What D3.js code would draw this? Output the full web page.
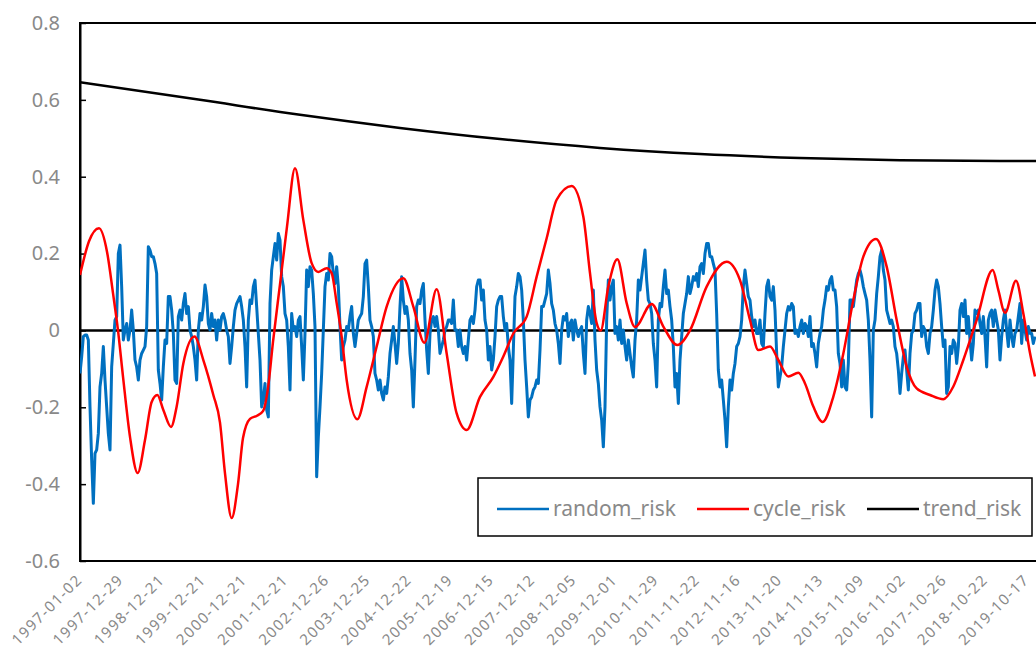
<!DOCTYPE html>
<html>
<head>
<meta charset="utf-8">
<script src="https://cdn.jsdelivr.net/npm/d3@7"></script>
<style>
  html, body { margin: 0; padding: 0; background: #fff; overflow: hidden; }
  svg { display: block; }
  text { font-family: "Noto Sans", "Liberation Sans", sans-serif; }
</style>
</head>
<body>
<div id="chart"></div>
<script>
// random_risk, one value every 10 trading days starting 1997-01-02
const sampleStep = 10;
const randomRisk = [
  -0.112,-0.069,-0.016,-0.012,-0.012,-0.025,-0.199,-0.337,-0.450,-0.320,
  -0.311,-0.268,-0.147,-0.112,-0.042,-0.129,-0.199,-0.268,-0.311,-0.095,
  -0.034,0.027,0.036,0.200,0.222,0.114,-0.025,0.001,0.018,-0.025,
  0.001,0.053,0.001,-0.077,-0.095,-0.129,-0.077,-0.060,-0.051,-0.042,
  0.010,0.218,0.209,0.192,0.192,0.174,0.148,-0.103,-0.138,-0.181,
  -0.095,-0.025,-0.034,0.088,0.088,0.053,-0.008,-0.129,-0.138,0.036,
  0.053,0.027,0.070,0.096,0.044,0.062,0.001,-0.016,-0.042,-0.077,
  -0.129,0.001,0.044,0.027,0.062,0.118,0.088,0.018,0.001,0.044,
  0.010,0.027,-0.025,0.027,0.001,0.036,0.044,0.027,0.001,-0.016,
  -0.086,-0.042,0.010,0.053,0.070,0.079,0.088,0.062,0.027,-0.042,
  -0.147,0.027,0.079,0.070,0.114,0.131,0.062,-0.008,-0.077,-0.199,
  -0.181,-0.138,-0.207,-0.225,
  0.070,0.157,0.192,0.226,0.183,0.252,0.235,0.140,0.114,0.044,
  0.027,-0.042,-0.155,0.044,0.001,0.010,-0.016,0.027,0.036,-0.042,
  -0.129,-0.008,0.157,0.114,0.166,0.157,0.096,0.010,-0.381,-0.277,
  -0.199,-0.112,0.001,0.114,0.148,0.131,0.200,0.192,0.148,0.122,
  0.166,0.114,0.010,-0.077,-0.042,-0.025,0.010,0.001,0.036,0.062,
  -0.008,-0.042,-0.008,0.027,0.036,0.044,0.088,0.174,0.183,0.114,
  0.027,0.010,-0.016,-0.112,-0.129,-0.155,-0.129,-0.164,-0.181,-0.147,
  -0.164,-0.121,-0.060,-0.025,0.010,-0.034,-0.086,-0.034,0.062,0.140,
  0.079,0.044,0.062,0.027,-0.060,-0.103,-0.199,-0.077,0.062,0.079,
  0.070,0.105,0.122,0.027,-0.051,-0.112,-0.008,0.027,0.036,0.010,
  0.036,0.001,-0.060,-0.042,-0.025,0.001,0.010,0.027,0.027,0.018,
  0.079,0.001,0.001,-0.042,
  0.001,-0.042,-0.060,-0.042,-0.077,-0.025,0.027,0.036,0.018,0.053,
  0.114,0.131,0.131,0.079,0.105,0.027,0.001,-0.077,-0.042,-0.103,
  -0.077,-0.016,0.062,0.079,0.088,0.088,0.036,0.001,0.018,-0.042,
  -0.077,-0.190,-0.051,0.088,0.114,0.148,0.140,0.105,0.027,-0.077,
  -0.147,-0.225,-0.181,-0.173,-0.155,-0.147,-0.129,-0.138,-0.051,0.062,
  0.062,0.079,0.096,0.157,0.122,0.070,0.053,0.018,0.001,-0.034,
  -0.086,0.001,0.036,0.027,0.044,-0.016,0.018,0.027,-0.025,0.027,
  0.001,-0.016,0.001,0.010,-0.060,-0.112,0.027,0.062,0.044,0.018,
  0.105,-0.025,-0.103,-0.138,-0.199,-0.233,-0.303,-0.199,0.027,0.131,
  0.079,0.114,0.131,-0.008,0.010,-0.025,0.027,-0.034,0.001,-0.042,
  -0.077,-0.025,-0.060,-0.095,-0.121,-0.025,0.027,0.131,0.105,0.140,
  0.174,0.209,0.131,0.079,
  0.070,0.044,-0.034,-0.077,-0.147,0.027,0.070,0.062,0.114,0.157,
  0.096,0.105,0.062,0.027,-0.042,-0.147,-0.112,-0.190,-0.077,-0.016,
  0.044,0.070,0.096,0.140,0.096,0.114,0.140,0.131,0.148,0.114,
  0.166,0.174,0.148,0.200,0.226,0.226,0.192,0.192,0.174,0.157,
  0.044,-0.103,-0.147,-0.129,-0.181,-0.233,-0.303,-0.199,-0.129,-0.155,
  -0.112,-0.086,-0.042,-0.034,-0.016,0.027,0.114,0.157,0.122,0.088,
  0.079,0.036,0.010,0.027,-0.008,-0.008,0.027,-0.034,-0.042,0.044,
  0.114,0.131,0.088,0.079,0.114,0.053,-0.060,-0.147,-0.121,-0.095,
  -0.042,0.001,0.044,0.062,0.053,0.070,0.062,-0.008,0.001,-0.016,
  0.010,0.027,-0.008,0.018,0.010,-0.016,0.036,-0.042,-0.034,-0.060,
  -0.095,-0.034,-0.008,0.010,0.053,0.079,0.114,0.105,0.131,0.140,
  0.105,0.105,0.062,-0.060,
  -0.086,-0.147,-0.077,-0.147,-0.155,-0.086,0.079,0.079,0.062,0.096,
  0.131,0.148,0.157,0.140,0.114,0.096,0.079,0.027,-0.077,-0.225,
  0.001,0.027,0.096,0.140,0.192,0.209,0.157,0.131,0.053,0.036,
  0.018,0.027,0.010,-0.042,-0.060,-0.103,-0.164,-0.112,-0.069,-0.051,
  -0.103,-0.155,-0.060,-0.008,0.001,0.044,0.053,0.070,0.070,-0.016,
  0.010,0.001,-0.042,-0.060,-0.008,0.010,0.053,0.105,0.131,0.114,
  0.070,0.010,-0.042,-0.025,-0.164,-0.147,-0.042,-0.060,-0.025,-0.034,
  -0.086,-0.042,0.053,0.070,0.036,0.079,-0.008,0.036,-0.025,-0.077,
  -0.034,0.053,0.044,0.053,0.018,-0.008,0.036,-0.016,-0.095,0.027,
  0.044,0.053,0.010,0.053,0.027,0.001,-0.077,-0.016,0.027,0.053,
  0.001,-0.042,0.027,-0.016,-0.042,-0.008,0.001,0.036,0.070,-0.034,
  0.027,0.001,-0.025,0.010,-0.008,-0.008,-0.034,-0.016
];

// cycle_risk: [trading day, value]
const cycleRisk = [
  [0,0.144],[54,0.232],[114,0.266],[162,0.205],[198,0.097],[228,0.0],[258,-0.12],
  [300,-0.277],[346,-0.371],[390,-0.285],[430,-0.186],[464,-0.168],[500,-0.207],
  [546,-0.251],[580,-0.198],[620,-0.086],[687,-0.016],[740,-0.077],[800,-0.168],
  [840,-0.24],[870,-0.372],[910,-0.488],[948,-0.40],[978,-0.28],[1020,-0.23],
  [1062,-0.222],[1098,-0.21],[1128,-0.15],[1158,-0.03],[1200,0.12],[1242,0.27],
  [1290,0.422],[1340,0.287],[1390,0.175],[1430,0.152],[1480,0.162],[1510,0.149],
  [1540,0.071],[1570,-0.016],[1600,-0.129],[1664,-0.231],[1720,-0.147],[1780,-0.042],
  [1840,0.062],[1940,0.136],[2000,0.062],[2066,-0.032],[2140,0.107],[2200,-0.06],
  [2260,-0.216],[2320,-0.259],[2400,-0.173],[2480,-0.121],[2540,-0.068],[2600,-0.008],
  [2680,0.036],[2740,0.140],[2800,0.240],[2860,0.34],[2950,0.376],[3020,0.296],
  [3060,0.149],[3100,0.019],[3124,0.0],[3170,0.114],[3224,0.185],[3280,0.071],
  [3330,0.009],[3430,0.069],[3500,0.01],[3584,-0.038],[3660,0.0],[3760,0.114],
  [3880,0.179],[3960,0.131],[4020,0.027],[4070,-0.051],[4140,-0.042],[4190,-0.077],
  [4250,-0.120],[4310,-0.110],[4350,-0.138],[4400,-0.198],[4456,-0.238],[4520,-0.172],
  [4580,-0.06],[4640,0.079],[4700,0.192],[4776,0.238],[4840,0.166],[4900,0.027],
  [4960,-0.094],[5020,-0.151],[5100,-0.168],[5180,-0.179],[5240,-0.146],[5300,-0.077],
  [5380,0.027],[5476,0.157],[5510,0.105],[5550,0.046],[5616,0.129],[5660,0.044],
  [5700,-0.059],[5730,-0.12]
];

// trend_risk: [trading day, value]
const trendRisk = [
  [0,0.646],[720,0.600],[1320,0.561],[1920,0.527],[2520,0.498],[3120,0.475],
  [3720,0.459],[4320,0.449],[4920,0.443],[5520,0.441],[5736,0.441]
];

// category labels, one every 247 trading days
const labelStep = 247;
const dateLabels = [
  "1997-01-02","1997-12-29","1998-12-21","1999-12-21","2000-12-21","2001-12-21",
  "2002-12-26","2003-12-25","2004-12-22","2005-12-19","2006-12-15","2007-12-12",
  "2008-12-05","2009-12-01","2010-11-29","2011-11-22","2012-11-16","2013-11-20",
  "2014-11-13","2015-11-09","2016-11-02","2017-10-26","2018-10-22","2019-10-17"
];
const yTicks = [-0.6, -0.4, -0.2, 0, 0.2, 0.4, 0.6, 0.8];
const seriesNames = ["random_risk", "cycle_risk", "trend_risk"];
const seriesColors = ["#0070C0", "#FF0000", "#000000"];

const width = 1036, height = 652;
const plot = { left: 80, top: 23, right: 1050, bottom: 561 };
const totalDays = 5820;
const labelColor = "#898989";

const svg = d3.select("#chart").append("svg")
  .attr("width", width)
  .attr("height", height);

const x = d3.scaleLinear().domain([0, totalDays]).range([plot.left, plot.right]);
const y = d3.scaleLinear().domain([-0.6, 0.8]).range([plot.bottom, plot.top]);

svg.append("clipPath").attr("id", "clip")
  .append("rect")
  .attr("x", plot.left).attr("y", plot.top)
  .attr("width", plot.right - plot.left).attr("height", plot.bottom - plot.top);

// y axis, ticks pointing inside
const yAxis = svg.append("g")
  .attr("transform", `translate(${plot.left},0)`)
  .call(d3.axisLeft(y)
    .tickValues(yTicks)
    .tickSizeInner(-6)
    .tickSizeOuter(0)
    .tickPadding(20)
    .tickFormat(d => d === 0 ? "0" : d.toFixed(1)));
yAxis.select(".domain").attr("stroke-width", 2);
yAxis.selectAll(".tick line").attr("stroke-width", 1.5);
yAxis.selectAll("text")
  .style("font-size", "20px")
  .attr("fill", labelColor);

// x axis labels
const xAxis = svg.append("g")
  .attr("transform", `translate(0,${plot.bottom})`)
  .call(d3.axisBottom(x)
    .tickValues(dateLabels.map((_, i) => i * labelStep))
    .tickFormat((d, i) => dateLabels[i])
    .tickSize(0)
    .tickSizeOuter(0));
xAxis.select(".domain").remove();
xAxis.selectAll("text")
  .attr("x", 0)
  .attr("y", 0)
  .attr("dy", "0.35em")
  .attr("text-anchor", "end")
  .attr("transform", "translate(-1,16) rotate(-45)")
  .style("font-size", "15px")
  .style("letter-spacing", "1.4px")
  .attr("fill", labelColor);

// frame
svg.append("path")
  .attr("d", `M${plot.right},${plot.top}H${plot.left}V${plot.bottom}H${plot.right}`)
  .attr("fill", "none")
  .attr("stroke", "#000")
  .attr("stroke-width", 2);

// zero line
svg.append("line")
  .attr("x1", plot.left).attr("x2", plot.right)
  .attr("y1", y(0)).attr("y2", y(0))
  .attr("stroke", "#000")
  .attr("stroke-width", 2.5);

const lines = svg.append("g").attr("clip-path", "url(#clip)");

const randomLine = d3.line()
  .x((d, i) => x(i * sampleStep))
  .y(d => y(d));

const smoothLine = d3.line()
  .x(d => x(d[0]))
  .y(d => y(d[1]))
  .curve(d3.curveMonotoneX);

lines.append("path")
  .datum(randomRisk)
  .attr("d", randomLine)
  .attr("fill", "none")
  .attr("stroke", seriesColors[0])
  .attr("stroke-width", 3)
  .attr("stroke-linejoin", "round");

lines.append("path")
  .datum(cycleRisk)
  .attr("d", smoothLine)
  .attr("fill", "none")
  .attr("stroke", seriesColors[1])
  .attr("stroke-width", 2.5);

lines.append("path")
  .datum(trendRisk)
  .attr("d", smoothLine)
  .attr("fill", "none")
  .attr("stroke", seriesColors[2])
  .attr("stroke-width", 2.5);

// legend
const legend = svg.append("g").attr("transform", "translate(478,478)");
legend.append("rect")
  .attr("width", 554).attr("height", 58)
  .attr("fill", "#fff")
  .attr("stroke", "#000")
  .attr("stroke-width", 1.5);

const legendOffsets = [19, 219, 389];
const items = legend.selectAll(".item")
  .data(seriesNames)
  .enter()
  .append("g")
  .attr("class", "item")
  .attr("transform", (d, i) => `translate(${legendOffsets[i]},31)`);

items.append("line")
  .attr("x1", 0).attr("x2", 52)
  .attr("stroke", (d, i) => seriesColors[i])
  .attr("stroke-width", 2.5);

items.append("text")
  .attr("x", 56)
  .attr("dy", "0.35em")
  .style("font-size", "21px")
  .attr("fill", labelColor)
  .text(d => d);
</script>
</body>
</html>
